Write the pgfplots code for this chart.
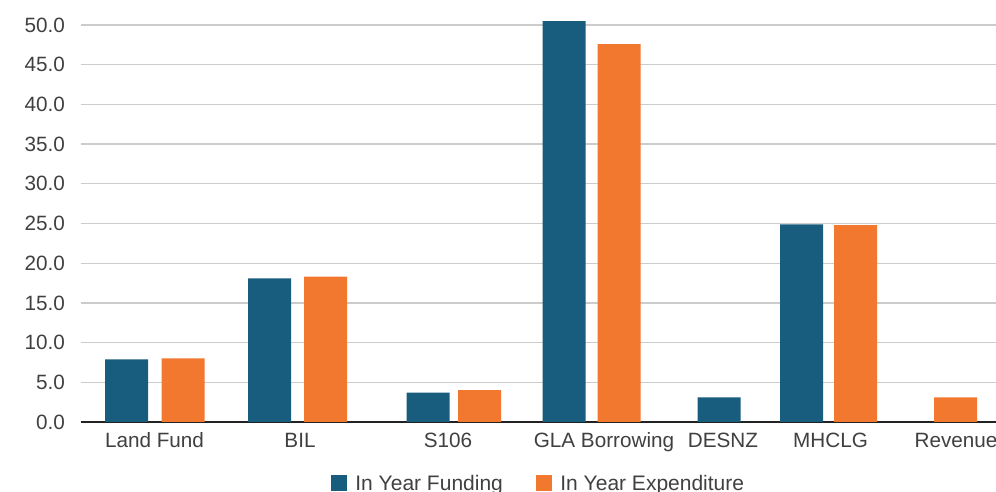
\documentclass[border=0pt]{standalone}
\usepackage{pgfplots}
\pgfplotsset{compat=1.18}
\usepackage{fontspec}
\setmainfont{Liberation Sans}

\definecolor{fundblue}{RGB}{24,92,126}
\definecolor{spendorange}{RGB}{242,119,47}
\definecolor{labelgray}{RGB}{64,64,64}
\definecolor{gridgray}{RGB}{204,204,204}
\definecolor{axisdark}{RGB}{34,34,34}

% square swatch for the legend
\pgfplotsset{sqlegend/.style={legend image code/.code={\fill[##1] (0pt,-6.5pt) rectangle (16pt,9.5pt);}}}

\begin{document}
\begin{tikzpicture}
\begin{axis}[
  x=1pt, y=7.94pt,
  xmin=81, xmax=996, ymin=0, ymax=53.15,
  axis x line*=bottom, axis y line*=left,
  y axis line style={draw=none},
  x axis line style={-, line width=2pt, draw=axisdark},
  major tick length=0pt,
  ytick={0,5,10,15,20,25,30,35,40,45,50},
  ymajorgrids, grid style={draw=gridgray, line width=1.3pt},
  xtick={154.5,300,448,604,723,830.5,956},
  xticklabels={Land Fund,BIL,S106,GLA Borrowing,DESNZ,MHCLG,Revenue},
  /pgf/number format/.cd, fixed, fixed zerofill, precision=1, assume math mode=true,
  /pgfplots/.cd,
  tick label style={font=\fontsize{20.7}{24}\selectfont, text=labelgray},
  yticklabel style={anchor=east, inner sep=0pt, xshift=-16pt},
  xticklabel style={anchor=north, inner sep=0pt, text height=15pt, text depth=4pt, yshift=-10.3pt},
  legend style={draw=none, fill=none, inner sep=0pt,
    at={(axis description cs:0.2729,-0.1256)}, anchor=north west,
    font=\fontsize{21}{24}\selectfont, text=labelgray,
    nodes={inner sep=0pt, text height=15pt, text depth=4pt},
    /tikz/every odd column/.append style={column sep=8.5pt},
    /tikz/every even column/.append style={column sep=33pt}},
  legend columns=2,
]
% In Year Funding
\addplot[ybar, bar width=43pt, bar shift=0pt, fill=fundblue, draw=none, sqlegend]
  coordinates {(126.7,7.9) (269.7,18.1) (428,3.7) (564,50.5) (719,3.1) (801.7,24.9)};
% In Year Expenditure
\addplot[ybar, bar width=43pt, bar shift=0pt, fill=spendorange, draw=none, sqlegend]
  coordinates {(183,8.0) (325.7,18.3) (479.7,4.0) (619,47.6) (855.7,24.8) (955.7,3.1)};
\legend{In Year Funding, In Year Expenditure}
\end{axis}
\pgfresetboundingbox
\useasboundingbox (-81pt,-70pt) rectangle (915pt,422pt);
\end{tikzpicture}
\end{document}
